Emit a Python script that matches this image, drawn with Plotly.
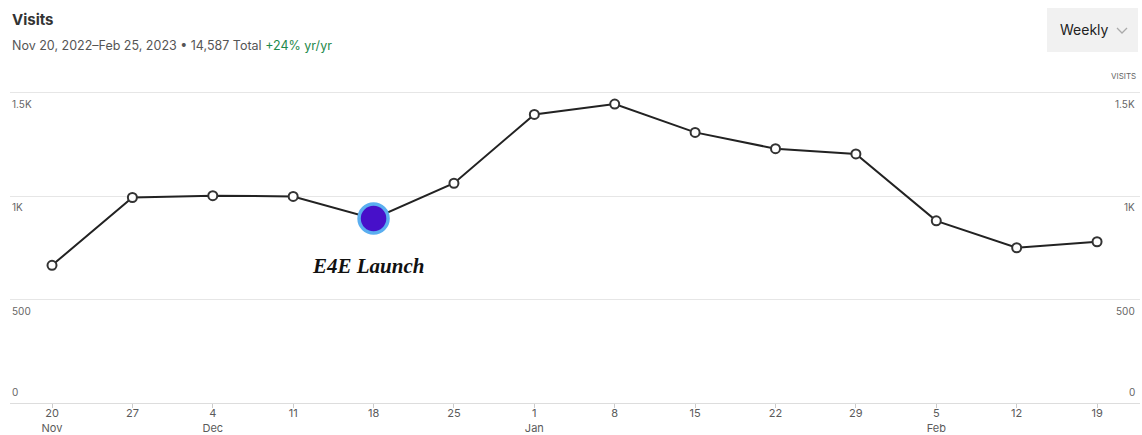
import plotly.graph_objects as go

weeks = ["2022-11-20", "2022-11-27", "2022-12-04", "2022-12-11", "2022-12-18",
         "2022-12-25", "2023-01-01", "2023-01-08", "2023-01-15", "2023-01-22",
         "2023-01-29", "2023-02-05", "2023-02-12", "2023-02-19"]
visits = [666, 994, 1003, 999, 892, 1063, 1396, 1446, 1309, 1230, 1205, 881, 751, 780]

tick_labels = ["20<br>Nov", "27", "4<br>Dec", "11", "18", "25", "1<br>Jan", "8",
               "15", "22", "29", "5<br>Feb", "12", "19"]
y_ticks = [0, 500, 1000, 1500]
y_tick_labels = ["0", "500", "1K", "1.5K"]

launch_week = "2022-12-18"
launch_value = visits[weeks.index(launch_week)]
launch_label = "E4E Launch"

title = "Visits"
subtitle = "Nov 20, 2022\u2013Feb 25, 2023 \u2022 14,587 Total "
change = "+24% yr/yr"

FONT = "Inter, Roboto, sans-serif"
W, H = 1142, 435
L, R, T, B = 10, 2, 90, 32
pw, ph = W - L - R, H - T - B


def px(x):
    return (x - L) / pw


def py(y):
    return (H - B - y) / ph


fig = go.Figure()

fig.add_trace(go.Scatter(
    x=weeks, y=visits, mode="lines+markers",
    line=dict(color="#222222", width=2),
    marker=dict(size=9, color="white", line=dict(color="#333333", width=2)),
    hoverinfo="x+y", showlegend=False,
))
fig.add_trace(go.Scatter(
    x=[launch_week], y=[launch_value], mode="markers",
    marker=dict(size=29, color="#4710C9", line=dict(color="#5AAEF0", width=3.5)),
    showlegend=False,
))

annotations = []
for v, t in zip(y_ticks, y_tick_labels):
    ya = "top" if v > 0 else "bottom"
    yshift = -3 if v > 0 else 3
    annotations.append(dict(x=0, xref="paper", y=v, yref="y", text=t, showarrow=False,
                            xanchor="left", yanchor=ya, yshift=yshift,
                            font=dict(family=FONT, size=10, color="#666666")))
    annotations.append(dict(x=1, xref="paper", y=v, yref="y", text=t, showarrow=False,
                            xanchor="right", yanchor=ya, yshift=yshift, xshift=-3,
                            font=dict(family=FONT, size=10, color="#666666")))

annotations.append(dict(x=launch_week, xref="x", y=launch_value, yref="y",
                        text="<b><i>" + launch_label + "</i></b>", showarrow=False,
                        yanchor="top", yshift=-33, xshift=-6,
                        font=dict(family="Liberation Serif, Times New Roman, serif", size=21, color="#111111")))

hdr = [
    dict(x=px(10), y=py(19), text="<b>" + title + "</b>", xanchor="left",
         font=dict(family=FONT, size=15, color="#333333")),
    dict(x=px(10), y=py(46), text=subtitle + "<span style='color:#1E8A4C'>" + change + "</span>",
         xanchor="left", font=dict(family=FONT, size=12.5, color="#555555")),
    dict(x=px(1058), y=py(30), text="Weekly", xanchor="left",
         font=dict(family=FONT, size=14, color="#222222")),
    dict(x=px(1138), y=py(76), text="VISITS", xanchor="right",
         font=dict(family=FONT, size=8, color="#666666")),
]
for a in hdr:
    a.update(xref="paper", yref="paper", showarrow=False, yanchor="middle")

fig.add_shape(type="rect", xref="paper", yref="paper",
              x0=px(1047), x1=px(1138), y0=py(52), y1=py(8),
              fillcolor="#F1F1F1", line=dict(width=0), layer="below")
fig.add_shape(type="path", xref="paper", yref="paper",
              path=f"M {px(1117)} {py(28)} L {px(1122)} {py(33)} L {px(1127)} {py(28)}",
              line=dict(color="#AAAAAA", width=1.3))

fig.update_layout(
    annotations=annotations + hdr,
    width=W, height=H,
    margin=dict(l=L, r=R, t=T, b=B),
    plot_bgcolor="white", paper_bgcolor="white",
    font=dict(family=FONT),
    xaxis=dict(
        type="date",
        range=["2022-11-16 08:13", "2023-02-22 17:45"],
        tickvals=weeks, ticktext=tick_labels,
        tickfont=dict(family=FONT, size=11, color="#5A5A5A"),
        ticks="outside", ticklen=4, tickcolor="#cccccc", tickwidth=1,
        ticklabelstandoff=-4,
        showgrid=False, showline=True, linecolor="#dddddd", linewidth=1,
        zeroline=False, fixedrange=True, automargin=False,
    ),
    yaxis=dict(
        range=[0, 1514], tickvals=y_ticks, showticklabels=False,
        showgrid=True, gridcolor="#E6E6E6", gridwidth=1,
        zeroline=False, fixedrange=True, automargin=False,
    ),
)

fig.write_html("out.html")
